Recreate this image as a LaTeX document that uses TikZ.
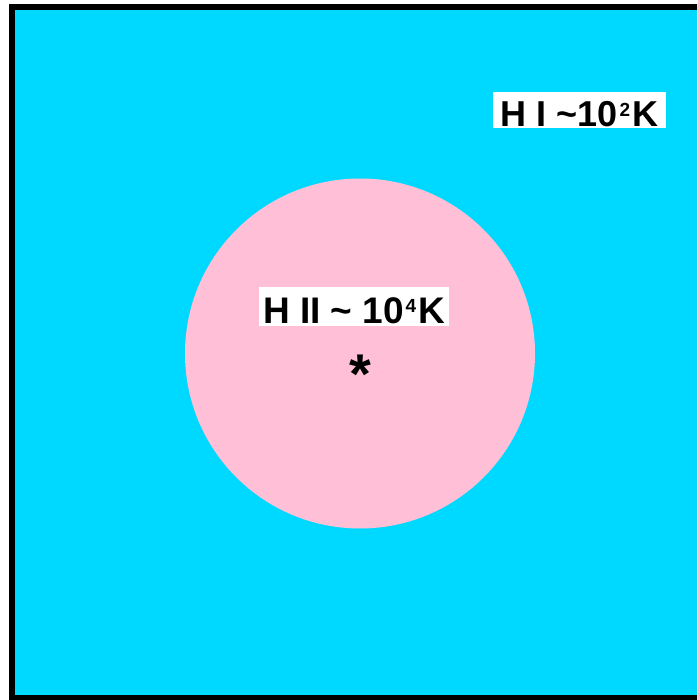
\documentclass[tikz,border=0pt]{standalone}
\usepackage{fontspec}
\setmainfont{Liberation Sans}
\definecolor{skycyan}{RGB}{0,217,255}
\definecolor{hiipink}{RGB}{255,191,214}
\newcommand{\mysup}[1]{\kern1.5pt\raisebox{0.28em}{\fontsize{19}{22}\selectfont #1}\kern2pt}
\tikzset{
  label box/.style={fill=white, inner sep=0pt, font=\bfseries},
}
\begin{document}
\begin{tikzpicture}[x=1pt,y=-1pt]
\useasboundingbox (0,0) rectangle (697,700);
\clip (0,0) rectangle (697,700);
\fill[white] (0,0) rectangle (697,700);
\draw[line width=6pt, fill=skycyan] (12,7) rectangle (710,698);
\fill[hiipink] (360,353.5) circle[radius=175];
\node[label box, minimum width=173pt, minimum height=36pt, text height=35pt, text depth=1pt,
  font=\fontsize{36}{40}\selectfont\bfseries] (hi) at (579.5,110)
  {H I \char`\~10\mysup{2}K};
\node[label box, minimum width=190pt, minimum height=39pt, text height=36pt, text depth=3pt,
  font=\fontsize{37}{42}\selectfont\bfseries] (hii) at (354,306.5)
  {H II \char`\~{} 10\mysup{4}K};
\node[inner sep=0pt, font=\fontsize{56}{60}\selectfont\bfseries] (star) at (360,374) {*};
\end{tikzpicture}
\end{document}
